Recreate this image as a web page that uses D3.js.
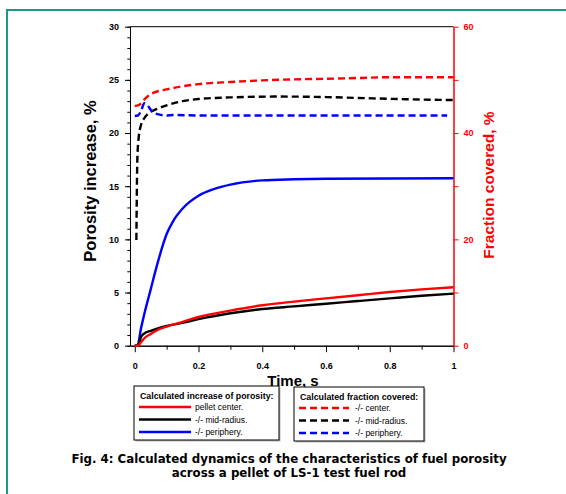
<!DOCTYPE html>
<html>
<head>
<meta charset="utf-8">
<script src="https://cdn.jsdelivr.net/npm/d3@7"></script>
<style>
body { margin: 0; background: #fff; }
.tick text { font-family: "Liberation Sans", Arial, sans-serif; font-weight: bold; font-size: 9px; }
</style>
</head>
<body>
<script>
// porosity increase (left axis, %), time in s
var tSolid = [0, 0.01, 0.02, 0.03, 0.05, 0.07, 0.1, 0.15, 0.2, 0.3, 0.4, 0.5, 0.6, 0.7, 0.8, 0.9, 1.0];
var porCenter = [0, 0, 0.35, 0.7, 1.1, 1.45, 1.8, 2.25, 2.7, 3.3, 3.8, 4.15, 4.45, 4.75, 5.05, 5.3, 5.5];
var porMid = [0, 0, 0.85, 1.15, 1.4, 1.6, 1.85, 2.15, 2.5, 3.05, 3.45, 3.7, 3.95, 4.2, 4.45, 4.7, 4.9];
var tPeriph = [0, 0.008, 0.02, 0.03, 0.05, 0.07, 0.1, 0.12, 0.15, 0.2, 0.25, 0.3, 0.4, 0.5, 0.6, 1.0];
var porPeriph = [0, 0, 1.7, 3.0, 5.3, 7.6, 10.5, 11.7, 12.9, 14.1, 14.75, 15.15, 15.55, 15.65, 15.7, 15.75];

// fraction covered (right axis, %)
var tFcCenter = [0, 0.01, 0.02, 0.03, 0.04, 0.06, 0.1, 0.15, 0.2, 0.3, 0.4, 0.5, 0.6, 0.7, 0.8, 0.9, 1.0];
var fcCenter = [45.1, 45.2, 45.6, 46.3, 46.9, 47.6, 48.2, 48.8, 49.2, 49.6, 49.9, 50.1, 50.2, 50.35, 50.5, 50.5, 50.5];
var tFcMid = [0.005, 0.008, 0.012, 0.02, 0.03, 0.045, 0.065, 0.1, 0.15, 0.2, 0.3, 0.45, 0.6, 0.7, 0.85, 1.0];
var fcMid = [19.9, 35, 39, 41.6, 42.8, 43.8, 44.4, 45.2, 46.0, 46.4, 46.7, 46.86, 46.76, 46.6, 46.36, 46.2];
var tFcPeriph = [0, 0.01, 0.02, 0.03, 0.04, 0.055, 0.075, 0.1, 0.12, 0.2, 0.4, 0.6, 0.8, 0.98];
var fcPeriph = [43.2, 43.3, 44.2, 45.6, 45.2, 44.0, 43.5, 43.3, 43.4, 43.3, 43.3, 43.3, 43.3, 43.3];

var xTicks = [0, 0.2, 0.4, 0.6, 0.8, 1];
var xMinor = [0.1, 0.3, 0.5, 0.7, 0.9];
var leftTicks = [0, 5, 10, 15, 20, 25, 30];
var rightTicks = [0, 20, 40, 60];
var rightMinor = [10, 30, 50];

var legend1Title = "Calculated increase of porosity:";
var legend1Labels = ["pellet center.", "-/- mid-radius.", "-/- periphery."];
var legend2Title = "Calculated fraction covered:";
var legend2Labels = ["-/- center.", "-/- mid-radius.", "-/- periphery."];
var seriesColors = ["#ff0000", "#000000", "#0000ff"];

var w = 566, h = 494;
var plot = {left: 130, right: 453.5, top: 26.7, bottom: 345.7};

var svg = d3.select("body").append("svg")
	.attr("width", w)
	.attr("height", h);

// page frame
svg.append("rect")
	.attr("x", 7).attr("y", 10)
	.attr("width", 620).attr("height", 600)
	.attr("fill", "none")
	.attr("stroke", "#1b9a82")
	.attr("stroke-width", 2);

var xScale = d3.scaleLinear().domain([-0.015, 1]).range([plot.left, plot.right]);
var yLeft = d3.scaleLinear().domain([0, 30]).range([plot.bottom, plot.top]);
var yRight = d3.scaleLinear().domain([0, 60]).range([plot.bottom, plot.top]);

// top frame line
svg.append("line")
	.attr("x1", plot.left).attr("x2", plot.right)
	.attr("y1", plot.top).attr("y2", plot.top)
	.attr("stroke", "#000");

// left axis
svg.append("g")
	.attr("transform", "translate(" + plot.left + ",0)")
	.call(d3.axisLeft(yLeft).tickValues(d3.range(0, 31, 1)).tickSize(2.7).tickSizeOuter(0).tickFormat(""));
svg.append("g")
	.attr("transform", "translate(" + plot.left + ",0)")
	.call(d3.axisLeft(yLeft).tickValues(leftTicks).tickSize(5).tickSizeOuter(0).tickPadding(6));

// bottom axis
svg.append("g")
	.attr("transform", "translate(0," + plot.bottom + ")")
	.call(d3.axisBottom(xScale).tickValues(xMinor).tickSize(4).tickSizeOuter(0).tickFormat(""));
svg.append("g")
	.attr("transform", "translate(0," + plot.bottom + ")")
	.call(d3.axisBottom(xScale).tickValues(xTicks).tickSize(6.5).tickSizeOuter(0).tickPadding(10)
		.tickFormat(function(d) { return (d === 0 || d === 1) ? d : d.toFixed(1); }));

// right axis (red)
var rAxis = svg.append("g")
	.attr("transform", "translate(" + plot.right + ",0)")
	.call(d3.axisRight(yRight).tickValues(rightTicks).tickSize(5).tickSizeOuter(0).tickPadding(5));
var rMinor = svg.append("g")
	.attr("transform", "translate(" + plot.right + ",0)")
	.call(d3.axisRight(yRight).tickValues(rightMinor).tickSize(5).tickSizeOuter(0).tickFormat(""));
[rAxis, rMinor].forEach(function(g) {
	g.select(".domain").attr("stroke", "#ff0000");
	g.selectAll(".tick line").attr("stroke", "#ff0000");
	g.selectAll(".tick text").attr("fill", "#ff0000");
});

// axis titles
svg.append("text")
	.attr("transform", "translate(96," + 181 + ") rotate(-90)")
	.attr("text-anchor", "middle")
	.style("font-family", "Liberation Sans, Arial, sans-serif")
	.style("font-weight", "bold")
	.style("font-size", "16.5px")
	.text("Porosity increase, %");

svg.append("text")
	.attr("transform", "translate(494," + 185 + ") rotate(-90)")
	.attr("text-anchor", "middle")
	.attr("fill", "#ff0000")
	.style("font-family", "Liberation Sans, Arial, sans-serif")
	.style("font-weight", "bold")
	.style("font-size", "15.5px")
	.text("Fraction covered, %");

svg.append("text")
	.attr("x", 293).attr("y", 386)
	.attr("text-anchor", "middle")
	.style("font-family", "Liberation Sans, Arial, sans-serif")
	.style("font-weight", "bold")
	.style("font-size", "15px")
	.text("Time, s");

// series
var lineLeft = d3.line()
	.x(function(d) { return xScale(d[0]); })
	.y(function(d) { return yLeft(d[1]); })
	.curve(d3.curveMonotoneX);
var lineRight = d3.line()
	.x(function(d) { return xScale(d[0]); })
	.y(function(d) { return yRight(d[1]); })
	.curve(d3.curveMonotoneX);

var solidSeries = [
	{t: tSolid, v: porCenter, color: seriesColors[0]},
	{t: tSolid, v: porMid, color: seriesColors[1]},
	{t: tPeriph, v: porPeriph, color: seriesColors[2]}
];
var dashedSeries = [
	{t: tFcCenter, v: fcCenter, color: seriesColors[0]},
	{t: tFcMid, v: fcMid, color: seriesColors[1]},
	{t: tFcPeriph, v: fcPeriph, color: seriesColors[2]}
];

svg.selectAll(".dashed")
	.data(dashedSeries)
	.enter()
	.append("path")
	.attr("class", "dashed")
	.attr("d", function(d) { return lineRight(d3.zip(d.t, d.v)); })
	.attr("fill", "none")
	.attr("stroke", function(d) { return d.color; })
	.attr("stroke-width", 2.4)
	.attr("stroke-dasharray", "7,4");

svg.selectAll(".solid")
	.data(solidSeries.slice().reverse())
	.enter()
	.append("path")
	.attr("class", "solid")
	.attr("d", function(d) { return lineLeft(d3.zip(d.t, d.v)); })
	.attr("fill", "none")
	.attr("stroke", function(d) { return d.color; })
	.attr("stroke-width", 2.4);

// legends
function drawLegend(x, y, bw, bh, title, labels, dashed, lineW, textX) {
	var g = svg.append("g").attr("transform", "translate(" + x + "," + y + ")");
	g.append("rect")
		.attr("x", 1.5).attr("y", 1.5)
		.attr("width", bw).attr("height", bh)
		.attr("fill", "#bbb");
	g.append("rect")
		.attr("width", bw).attr("height", bh)
		.attr("fill", "#fff")
		.attr("stroke", "#000")
		.attr("stroke-width", 1);
	g.append("text")
		.attr("x", 6).attr("y", 13)
		.style("font-family", "Liberation Sans, Arial, sans-serif")
		.style("font-weight", "bold")
		.style("font-size", "8.8px")
		.text(title);
	labels.forEach(function(lab, i) {
		var yy = 21 + i * 12.5;
		g.append("line")
			.attr("x1", 5).attr("x2", 5 + lineW)
			.attr("y1", yy).attr("y2", yy)
			.attr("stroke", seriesColors[i])
			.attr("stroke-width", 2.4)
			.attr("stroke-dasharray", dashed ? "7,4" : null);
		g.append("text")
			.attr("x", textX).attr("y", yy + 3)
			.style("font-family", "Liberation Sans, Arial, sans-serif")
			.style("font-size", "8.5px")
			.text(lab);
	});
}
drawLegend(134, 386, 145, 54, legend1Title, legend1Labels, false, 52, 61);
drawLegend(294, 387, 130, 54, legend2Title, legend2Labels, true, 50, 61);

// caption
svg.append("text")
	.attr("x", 289).attr("y", 463)
	.attr("text-anchor", "middle")
	.style("font-family", "Verdana, DejaVu Sans, sans-serif")
	.style("font-weight", "bold")
	.style("font-size", "11.8px")
	.text("Fig. 4: Calculated dynamics of the characteristics of fuel porosity");
svg.append("text")
	.attr("x", 289).attr("y", 477)
	.attr("text-anchor", "middle")
	.style("font-family", "Verdana, DejaVu Sans, sans-serif")
	.style("font-weight", "bold")
	.style("font-size", "11.8px")
	.text("across a pellet of LS-1 test fuel rod");
</script>
</body>
</html>
